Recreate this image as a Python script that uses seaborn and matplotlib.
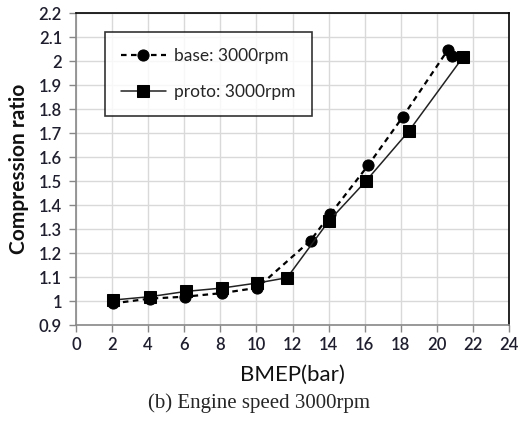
import matplotlib
matplotlib.use("Agg")
import matplotlib.pyplot as plt
import seaborn as sns
import pandas as pd

base_x = [2.05, 4.1, 6.05, 8.1, 10.05, 13.0, 14.1, 16.2, 18.1, 20.6, 20.85]
base_y = [0.99, 1.01, 1.018, 1.033, 1.055, 1.252, 1.362, 1.566, 1.766, 2.045, 2.022]
proto_x = [2.05, 4.1, 6.1, 8.1, 10.05, 11.7, 14.0, 16.05, 18.45, 21.45]
proto_y = [1.004, 1.018, 1.04, 1.054, 1.075, 1.097, 1.332, 1.498, 1.708, 2.016]

xticks = list(range(0, 25, 2))
yticks = [0.9, 1.0, 1.1, 1.2, 1.3, 1.4, 1.5, 1.6, 1.7, 1.8, 1.9, 2.0, 2.1, 2.2]
ytick_labels = ["0.9", "1", "1.1", "1.2", "1.3", "1.4", "1.5", "1.6", "1.7", "1.8", "1.9", "2", "2.1", "2.2"]

sns.set_style("white")
plt.rcParams['font.family'] = ['Lato', 'DejaVu Sans']

fig = plt.figure(figsize=(5.18, 4.25), dpi=100)
ax = fig.add_axes([76/518, 1 - 325/425, (509-76)/518, (325-13)/425])

df_b = pd.DataFrame({"x": base_x, "y": base_y})
df_p = pd.DataFrame({"x": proto_x, "y": proto_y})
sns.lineplot(data=df_b, x="x", y="y", ax=ax, color="black", linestyle=(0, (2.5, 2)),
             linewidth=1.6, marker="o", markersize=8, markeredgecolor="black",
             sort=False, label="base: 3000rpm")
sns.lineplot(data=df_p, x="x", y="y", ax=ax, color="#222222", linestyle="-",
             linewidth=1.1, marker="s", markersize=8, markeredgecolor="black",
             markerfacecolor="black", sort=False, label="proto: 3000rpm")

ax.set_xlim(0, 24)
ax.set_ylim(0.9, 2.2)
ax.set_xticks(xticks)
ax.set_yticks(yticks)
ax.set_yticklabels(ytick_labels)
ax.grid(True, color="#d9d9d9", linewidth=1.0)
ax.set_axisbelow(True)
for s in ["top", "right"]:
    ax.spines[s].set_color("black")
    ax.spines[s].set_linewidth(1.2)
for s in ["left", "bottom"]:
    ax.spines[s].set_color("#888888")
    ax.spines[s].set_linewidth(1.2)
ax.tick_params(axis="both", which="both", direction="out", length=5, width=1,
               color="#888888", labelsize=12, labelcolor="#1e1e2e", pad=5)
ax.tick_params(axis="x", bottom=True, pad=4)
ax.tick_params(axis="y", left=True)
for lab in ax.get_xticklabels() + ax.get_yticklabels():
    lab.set_fontweight("semibold")

ax.set_xlabel("BMEP(bar)", fontsize=16, color="#111111", labelpad=8)
ax.set_ylabel("Compression ratio", fontsize=15, fontweight="bold", color="#111111", labelpad=7)

leg = ax.legend(loc="upper left", bbox_to_anchor=(29/433, 1 - 19/312), frameon=True,
                fancybox=False, edgecolor="black", fontsize=12.5, handlelength=2.6,
                labelspacing=1.2, borderpad=0.9, handletextpad=0.5, borderaxespad=0)
leg.get_frame().set_linewidth(1.2)

fig.text(0.5, 1 - 403/425, "(b) Engine speed 3000rpm", ha="center", va="center",
         fontsize=15, family=["Liberation Serif", "DejaVu Serif"])

fig.savefig("out.png", dpi=100)
